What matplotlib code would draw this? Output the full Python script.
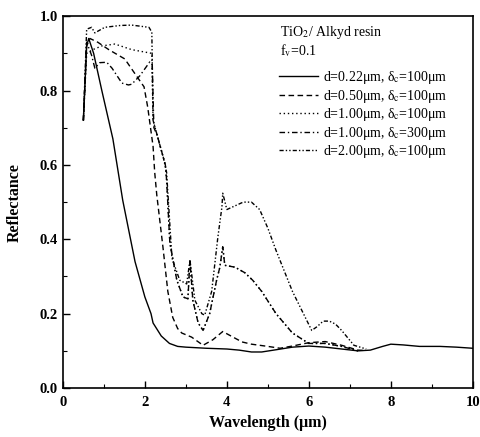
import matplotlib
matplotlib.use("Agg")
import matplotlib.pyplot as plt
from matplotlib.ticker import MultipleLocator

plt.rcParams['font.family'] = ['Liberation Serif', 'DejaVu Serif']
plt.rcParams['mathtext.fontset'] = 'stix'

# d=0.22um, dc=100um (solid)
x_a = [0.5, 0.58, 0.63, 0.75, 0.95, 1.22, 1.46, 1.76, 2.0, 2.15, 2.2, 2.4, 2.6, 2.8, 3.0, 3.5, 4.0,
       4.3, 4.6, 4.85, 5.2, 5.6, 6.0, 6.4, 6.8, 7.2, 7.5, 7.8, 8.0, 8.3, 8.7, 9.2, 9.6, 10.0]
r_a = [0.72, 0.92, 0.94, 0.90, 0.80, 0.67, 0.505, 0.34, 0.245, 0.20, 0.175, 0.14, 0.12, 0.112, 0.11,
       0.107, 0.105, 0.102, 0.097, 0.097, 0.103, 0.11, 0.113, 0.11, 0.105, 0.10, 0.102, 0.112, 0.118,
       0.116, 0.112, 0.112, 0.11, 0.107]

# d=0.50um, dc=100um (dashed)
x_b = [0.5, 0.58, 0.66, 0.85, 1.12, 1.51, 1.76, 1.98, 2.07, 2.2, 2.24, 2.29, 2.44, 2.56, 2.68, 2.8,
       2.9, 3.14, 3.42, 3.66, 3.9, 4.1, 4.37, 4.6, 5.0, 5.3, 5.6, 6.0, 6.4, 6.8, 7.2, 7.4]
r_b = [0.72, 0.92, 0.94, 0.93, 0.91, 0.885, 0.845, 0.81, 0.755, 0.65, 0.58, 0.52, 0.38, 0.26, 0.19,
       0.16, 0.148, 0.137, 0.115, 0.13, 0.152, 0.14, 0.124, 0.118, 0.112, 0.107, 0.113, 0.122, 0.125,
       0.115, 0.102, 0.101]

# d=1.00um, dc=100um (dotted)
x_c = [0.5, 0.58, 0.73, 0.95, 1.27, 1.68, 2.17, 2.2, 2.3, 2.4, 2.5, 2.53, 2.61, 2.78, 2.93, 3.05,
       3.1, 3.17, 3.3, 3.42, 3.58, 3.75, 3.83, 3.9, 3.95, 4.2, 4.44, 4.63, 4.85, 5.2, 5.6, 6.0, 6.4,
       6.8, 7.2]
r_c = [0.72, 0.90, 0.91, 0.92, 0.925, 0.91, 0.90, 0.72, 0.68, 0.64, 0.60, 0.56, 0.39, 0.29, 0.245,
       0.24, 0.344, 0.236, 0.175, 0.155, 0.2, 0.29, 0.325, 0.38, 0.33, 0.325, 0.31, 0.29, 0.26, 0.20,
       0.148, 0.12, 0.12, 0.112, 0.10]

# d=1.00um, dc=300um (dash-dot)
x_d = [0.5, 0.58, 0.7, 0.78, 0.9, 1.07, 1.2, 1.44, 1.6, 1.68, 1.88, 2.12, 2.18, 2.22, 2.3, 2.4,
       2.5, 2.53, 2.61, 2.78, 2.93, 3.05, 3.1, 3.17, 3.3, 3.42, 3.58, 3.75, 3.83, 3.9, 3.95, 4.2,
       4.44, 4.63, 4.85, 5.2, 5.6, 6.0, 6.4, 6.8, 7.2]
r_d = [0.72, 0.93, 0.895, 0.86, 0.875, 0.876, 0.86, 0.82, 0.815, 0.817, 0.84, 0.877, 0.87, 0.70,
       0.68, 0.64, 0.60, 0.56, 0.39, 0.29, 0.245, 0.24, 0.344, 0.236, 0.175, 0.155, 0.2, 0.29, 0.325,
       0.38, 0.33, 0.325, 0.31, 0.29, 0.26, 0.20, 0.148, 0.12, 0.12, 0.112, 0.10]

# d=2.00um, dc=100um (dash-dot-dot)
x_e = [0.5, 0.58, 0.7, 0.78, 1.02, 1.4, 1.68, 2.1, 2.17, 2.2, 2.25, 2.35, 2.45, 2.53, 2.66, 2.85,
       3.02, 3.1, 3.22, 3.39, 3.46, 3.63, 3.78, 3.88, 3.9, 4.0, 4.2, 4.4, 4.6, 4.8, 5.0, 5.2, 5.6,
       6.07, 6.2, 6.35, 6.5, 6.65, 6.8, 7.1, 7.4]
r_e = [0.72, 0.965, 0.97, 0.955, 0.97, 0.975, 0.976, 0.97, 0.957, 0.72, 0.70, 0.66, 0.62, 0.58,
       0.35, 0.29, 0.28, 0.344, 0.236, 0.20, 0.196, 0.26, 0.405, 0.487, 0.524, 0.48, 0.49, 0.50,
       0.50, 0.48, 0.43, 0.37, 0.26, 0.155, 0.165, 0.18, 0.18, 0.172, 0.155, 0.115, 0.105]

labels = ['d=0.22μm, δ$_\\mathrm{c}$=100μm',
          'd=0.50μm, δ$_\\mathrm{c}$=100μm',
          'd=1.00μm, δ$_\\mathrm{c}$=100μm',
          'd=1.00μm, δ$_\\mathrm{c}$=300μm',
          'd=2.00μm, δ$_\\mathrm{c}$=100μm']

fig = plt.figure(figsize=(4.8, 4.37), dpi=100)
ax = fig.add_axes([0.131, 0.112, 0.854, 0.851])

lw = 1.0
ax.plot(x_a, r_a, color='black', lw=lw, ls='-', label=labels[0])
ax.plot(x_b, r_b, color='black', lw=lw, ls=(0, (4, 2.5)), label=labels[1])
ax.plot(x_c, r_c, color='black', lw=lw, ls=(0, (1, 2)), label=labels[2])
ax.plot(x_d, r_d, color='black', lw=lw, ls=(0, (4, 2, 1, 2)), label=labels[3])
ax.plot(x_e, r_e, color='black', lw=lw, ls=(0, (3, 1.5, 1, 1.5, 1, 1.5)), label=labels[4])

ax.set_xlim(0, 10)
ax.set_ylim(0, 1.0)
ax.xaxis.set_major_locator(MultipleLocator(2))
ax.xaxis.set_minor_locator(MultipleLocator(1))
ax.yaxis.set_major_locator(MultipleLocator(0.2))
ax.yaxis.set_minor_locator(MultipleLocator(0.1))
ax.tick_params(which='both', direction='in', top=False, right=False)
ax.tick_params(which='major', length=5, width=1.0, labelsize=10.5)
ax.tick_params(axis='x', which='major', pad=6)
ax.tick_params(which='minor', length=3, width=0.8)
ax.yaxis.set_major_formatter(matplotlib.ticker.FormatStrFormatter('%.1f'))
for lab in ax.get_xticklabels() + ax.get_yticklabels():
    lab.set_fontweight('bold')
for s in ax.spines.values():
    s.set_linewidth(1.2)

ax.set_xlabel('Wavelength (μm)', fontsize=11.5, fontweight='bold', labelpad=4)
ax.set_ylabel('Reflectance', fontsize=11.5, fontweight='bold', labelpad=12)

ax.text(0.529, 0.957, r'TiO$_2$/ Alkyd resin', transform=ax.transAxes, fontsize=10,
        va='center', ha='left')
ax.text(0.529, 0.907, r'f$_\mathrm{v}$=0.1', transform=ax.transAxes, fontsize=10,
        va='center', ha='left')

ax.legend(loc='upper left', bbox_to_anchor=(0.527, 0.857), frameon=False, fontsize=10,
          handlelength=2.8, handletextpad=0.4, labelspacing=0.1, borderpad=0,
          borderaxespad=0)

fig.savefig('out.png', dpi=100)
